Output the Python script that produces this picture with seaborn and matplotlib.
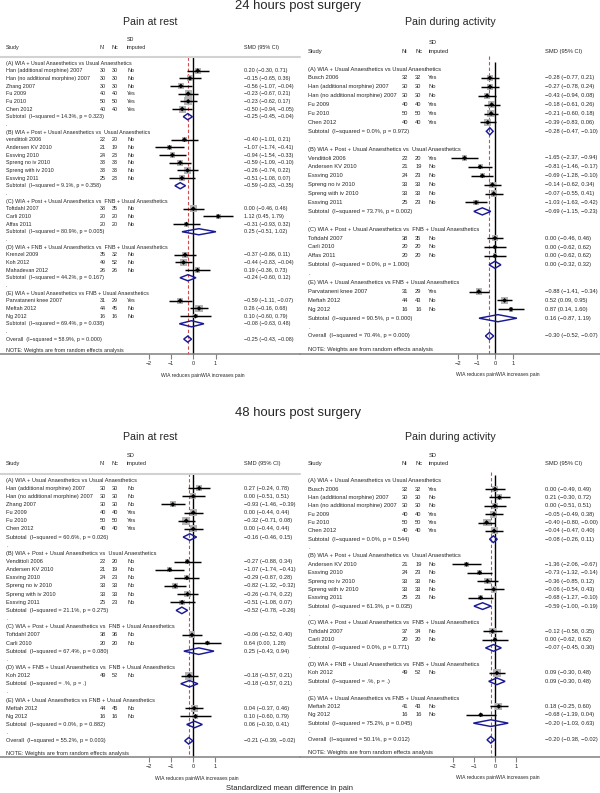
import pandas as pd
import seaborn as sns
import matplotlib.pyplot as plt
from matplotlib import transforms

sns.set_style("white")
plt.rcParams['font.family'] = ['Liberation Sans', 'DejaVu Sans']

group_titles = {
    'A': '(A) WIA + Usual Anaesthetics vs Usual Anaesthetics',
    'B': '(B) WIA + Post + Usual Anaesthetics vs  Usual Anaesthetics',
    'C': '(C) WIA + Post + Usual Anaesthetics vs  FNB + Usual Anaesthetics',
    'D': '(D) WIA + FNB + Usual Anaesthetics vs  FNB + Usual Anaesthetics',
    'E': '(E) WIA + Usual Anaesthetics vs FNB + Usual Anaesthetics',
}

# 24 hours, pain at rest
rest24_group = list('AAAAAABBBBBBCCCDDDEEE')
rest24_study = ['Han (additional morphine) 2007', 'Han (no additional morphine) 2007', 'Zhang 2007',
                'Fu 2009', 'Fu 2010', 'Chen 2012', 'vendittoli 2006', 'Andersen KV 2010', 'Essving 2010',
                'Spreng no iv 2010', 'Spreng with iv 2010', 'Essving 2011', 'Toftdahl 2007', 'Carli 2010',
                'Affas 2011', 'Krenzel 2009', 'Koh 2012', 'Mahadevan 2012', 'Parvataneni knee 2007',
                'Meftah 2012', 'Ng 2012']
rest24_ni = [30, 30, 30, 40, 50, 40, 22, 21, 24, 33, 33, 25, 38, 20, 20, 35, 49, 26, 31, 44, 16]
rest24_nc = [30, 30, 30, 40, 50, 40, 20, 19, 23, 33, 33, 23, 35, 20, 20, 32, 52, 26, 29, 45, 16]
rest24_sd = ['No', 'No', 'No', 'Yes', 'Yes', 'Yes', 'No', 'No', 'No', 'No', 'No', 'No', 'No', 'No',
             'No', 'No', 'No', 'No', 'Yes', 'No', 'No']
rest24_smd = [0.20, -0.15, -0.56, -0.23, -0.23, -0.50, -0.40, -1.07, -0.94, -0.59, -0.26, -0.51,
              0.00, 1.12, -0.31, -0.37, -0.44, 0.19, -0.59, 0.26, 0.10]
rest24_lo = [-0.30, -0.65, -1.07, -0.67, -0.62, -0.94, -1.01, -1.74, -1.54, -1.09, -0.74, -1.08,
             -0.46, 0.45, -0.93, -0.86, -0.83, -0.36, -1.11, -0.16, -0.60]
rest24_hi = [0.71, 0.36, -0.04, 0.21, 0.17, -0.05, 0.21, -0.41, -0.33, -0.10, 0.22, 0.07,
             0.46, 1.79, 0.32, 0.11, -0.04, 0.73, -0.07, 0.68, 0.79]
rest24_sub_group = list('ABCDE')
rest24_sub_i2 = ['14.3', '9.1', '80.9', '44.2', '69.4']
rest24_sub_p = ['0.323', '0.358', '0.005', '0.167', '0.038']
rest24_sub_smd = [-0.25, -0.59, 0.25, -0.24, -0.08]
rest24_sub_lo = [-0.45, -0.83, -0.51, -0.60, -0.63]
rest24_sub_hi = [-0.04, -0.35, 1.02, 0.12, 0.48]
rest24_overall = ['58.9', '0.000', -0.25, -0.43, -0.08]

# 24 hours, pain during activity
act24_group = list('AAAAAABBBBBBCCCEEE')
act24_study = ['Busch 2006', 'Han (additional morphine) 2007', 'Han (no additional morphine) 2007',
               'Fu 2009', 'Fu 2010', 'Chen 2012', 'Vendittoli 2006', 'Andersen KV 2010', 'Essving 2010',
               'Spreng no iv 2010', 'Spreng with iv 2010', 'Essving 2011', 'Toftdahl 2007', 'Carli 2010',
               'Affas 2011', 'Parvataneni knee 2007', 'Meftah 2012', 'Ng 2012']
act24_ni = [32, 30, 30, 40, 50, 40, 22, 21, 24, 33, 33, 25, 38, 20, 20, 31, 44, 16]
act24_nc = [32, 30, 30, 40, 50, 40, 20, 19, 23, 33, 33, 23, 35, 20, 20, 29, 43, 16]
act24_sd = ['Yes', 'No', 'No', 'Yes', 'Yes', 'Yes', 'Yes', 'No', 'No', 'No', 'No', 'No', 'No', 'No',
            'No', 'Yes', 'No', 'No']
act24_smd = [-0.28, -0.27, -0.43, -0.18, -0.21, -0.39, -1.65, -0.81, -0.69, -0.14, -0.07, -1.03,
             0.00, 0.00, 0.00, -0.88, 0.52, 0.87]
act24_lo = [-0.77, -0.78, -0.94, -0.61, -0.60, -0.83, -2.37, -1.46, -1.28, -0.62, -0.55, -1.63,
            -0.46, -0.62, -0.62, -1.41, 0.09, 0.14]
act24_hi = [0.21, 0.24, 0.08, 0.26, 0.18, 0.06, -0.94, -0.17, -0.10, 0.34, 0.41, -0.42,
            0.46, 0.62, 0.62, -0.34, 0.95, 1.60]
act24_sub_group = list('ABCE')
act24_sub_i2 = ['0.0', '73.7', '0.0', '90.5']
act24_sub_p = ['0.972', '0.002', '1.000', '0.000']
act24_sub_smd = [-0.28, -0.69, 0.00, 0.16]
act24_sub_lo = [-0.47, -1.15, -0.32, -0.87]
act24_sub_hi = [-0.10, -0.23, 0.32, 1.19]
act24_overall = ['70.4', '0.000', -0.30, -0.52, -0.07]

# 48 hours, pain at rest
rest48_group = list('AAAAAABBBBBBCCDEE')
rest48_study = ['Han (additional morphine) 2007', 'Han (no additional morphine) 2007', 'Zhang 2007',
                'Fu 2009', 'Fu 2010', 'Chen 2012', 'Vendittoli 2006', 'Andersen KV 2010', 'Essving 2010',
                'Spreng no iv 2010', 'Spreng with iv 2010', 'Essving 2011', 'Toftdahl 2007', 'Carli 2010',
                'Koh 2012', 'Meftah 2012', 'Ng 2012']
rest48_ni = [30, 30, 30, 40, 50, 40, 22, 21, 24, 33, 33, 25, 38, 20, 49, 44, 16]
rest48_nc = [30, 30, 30, 40, 50, 40, 20, 19, 23, 33, 33, 23, 36, 20, 52, 45, 16]
rest48_sd = ['No', 'No', 'No', 'Yes', 'Yes', 'Yes', 'No', 'No', 'No', 'No', 'No', 'No', 'No', 'No',
             'No', 'No', 'No']
rest48_smd = [0.27, 0.00, -0.93, 0.00, -0.32, 0.00, -0.27, -1.07, -0.29, -0.82, -0.26, -0.51,
              -0.06, 0.64, -0.18, 0.04, 0.10]
rest48_lo = [-0.24, -0.51, -1.46, -0.44, -0.71, -0.44, -0.88, -1.74, -0.87, -1.32, -0.74, -1.08,
             -0.52, 0.00, -0.57, -0.37, -0.60]
rest48_hi = [0.78, 0.51, -0.39, 0.44, 0.08, 0.44, 0.34, -0.41, 0.28, -0.32, 0.22, 0.07,
             0.40, 1.28, 0.21, 0.46, 0.79]
rest48_sub_group = list('ABCDE')
rest48_sub_i2 = ['60.6', '21.1', '67.4', '.', '0.0']
rest48_sub_p = ['0.026', '0.275', '0.080', '.', '0.882']
rest48_sub_smd = [-0.16, -0.52, 0.25, -0.18, 0.06]
rest48_sub_lo = [-0.46, -0.78, -0.43, -0.57, -0.30]
rest48_sub_hi = [0.15, -0.26, 0.94, 0.21, 0.41]
rest48_overall = ['55.2', '0.003', -0.21, -0.39, -0.02]

# 48 hours, pain during activity
act48_group = list('AAAAAABBBBBCCDEE')
act48_study = ['Busch 2006', 'Han (additional morphine) 2007', 'Han (no additional morphine) 2007',
               'Fu 2009', 'Fu 2010', 'Chen 2012', 'Andersen KV 2010', 'Essving 2010', 'Spreng no iv 2010',
               'Spreng with iv 2010', 'Essving 2011', 'Toftdahl 2007', 'Carli 2010', 'Koh 2012',
               'Meftah 2012', 'Ng 2012']
act48_ni = [32, 30, 30, 40, 50, 40, 21, 24, 33, 33, 25, 37, 20, 49, 41, 16]
act48_nc = [32, 30, 30, 40, 50, 40, 19, 23, 33, 33, 23, 34, 20, 52, 43, 16]
act48_sd = ['Yes', 'No', 'No', 'Yes', 'Yes', 'Yes', 'No', 'No', 'No', 'No', 'No', 'No', 'No', 'No',
            'No', 'No']
act48_smd = [0.00, 0.21, 0.00, -0.05, -0.40, -0.04, -1.36, -0.73, -0.36, -0.06, -0.68, -0.12,
             0.00, 0.09, 0.18, -0.68]
act48_lo = [-0.49, -0.30, -0.51, -0.49, -0.80, -0.47, -2.06, -1.32, -0.85, -0.54, -1.27, -0.58,
            -0.62, -0.30, -0.25, -1.39]
act48_hi = [0.49, 0.72, 0.51, 0.38, -0.00, 0.40, -0.67, -0.14, 0.12, 0.43, -0.10, 0.35,
            0.62, 0.48, 0.60, 0.04]
act48_sub_group = list('ABCDE')
act48_sub_i2 = ['0.0', '61.3', '0.0', '.', '75.2']
act48_sub_p = ['0.544', '0.035', '0.771', '.', '0.045']
act48_sub_smd = [-0.08, -0.59, -0.07, 0.09, -0.20]
act48_sub_lo = [-0.26, -1.00, -0.45, -0.30, -1.03]
act48_sub_hi = [0.11, -0.19, 0.30, 0.48, 0.63]
act48_overall = ['50.1', '0.012', -0.20, -0.38, -0.02]

xticks = [-2, -1, 0, 1]

W, H = 600, 793
BOX_GREY = '#b4b4b4'
NAVY = '#1a1a94'
fig = plt.figure(figsize=(W / 100, H / 100), dpi=100)


def fmt(v):
    return f"{v:.2f}".replace('-', '\u2212')


def build_rows(groups, study, ni, nc, sd, smd, lo, hi, sub_group, sub_i2, sub_p, sub_smd, sub_lo, sub_hi, overall):
    rows = []
    for k, g in enumerate(sub_group):
        rows.append(dict(kind='head', label=group_titles[g]))
        for i, gg in enumerate(groups):
            if gg == g:
                rows.append(dict(kind='study', label=study[i], ni=str(ni[i]), nc=str(nc[i]), sd=sd[i],
                                 smd=smd[i], lo=lo[i], hi=hi[i], n=ni[i] + nc[i]))
        rows.append(dict(kind='sub', label=f"Subtotal  (I\u2212squared = {sub_i2[k]}%, p = {sub_p[k]})",
                         smd=sub_smd[k], lo=sub_lo[k], hi=sub_hi[k]))
        rows.append(dict(kind='dot', label='.'))
    rows.append(dict(kind='overall', label=f"Overall  (I\u2212squared = {overall[0]}%, p = {overall[1]})",
                     smd=overall[2], lo=overall[3], hi=overall[4]))
    df = pd.DataFrame(rows)
    df['row'] = range(len(df))
    return df


def draw_panel(df, box, zero_px, px_per_unit, first_px, row_px, cols, junction_px, grey_rule,
               dash_top, null_top, txt):
    left, top, width, height = box
    ax = fig.add_axes([left / W, 1 - (top + height) / H, width / W, height / H])
    trans = transforms.blended_transform_factory(ax.transAxes, ax.transData)
    last = df['row'].max()
    axis_y = last + 2.0
    overall_smd = df.loc[df['kind'] == 'overall', 'smd'].iloc[0]

    # header
    ax.text(cols['study'] / width, -2, 'Study', transform=trans, fontsize=txt, va='center')
    ax.text(cols['ni'] / width, -2, 'Ni', transform=trans, fontsize=txt, va='center')
    ax.text(cols['nc'] / width, -2, 'Nc', transform=trans, fontsize=txt, va='center')
    ax.text(cols['sd'] / width, -3, 'SD', transform=trans, fontsize=txt, va='center')
    ax.text(cols['sd'] / width, -2, 'imputed', transform=trans, fontsize=txt, va='center')
    ax.text(cols['smd'] / width, -2, 'SMD (95% CI)', transform=trans, fontsize=txt, va='center')
    if grey_rule:
        ax.plot([0, 1], [-0.75, -0.75], transform=trans, color='#d2d2d2', lw=1.5, clip_on=False)

    # text columns
    for _, r in df.iterrows():
        ax.text(cols['study'] / width, r['row'], r['label'], transform=trans, fontsize=txt, va='center')
        if r['kind'] == 'study':
            ax.text(cols['ni'] / width, r['row'], r['ni'], transform=trans, fontsize=txt, va='center')
            ax.text(cols['nc'] / width, r['row'], r['nc'], transform=trans, fontsize=txt, va='center')
            ax.text(cols['sd'] / width, r['row'], r['sd'], transform=trans, fontsize=txt, va='center')
        if r['kind'] in ('study', 'sub', 'overall'):
            ax.text(cols['smd'] / width, r['row'], f"{fmt(r['smd'])} ({fmt(r['lo'])}, {fmt(r['hi'])})",
                    transform=trans, fontsize=txt, va='center')
    ax.text(cols['study'] / width, last + 1.5, 'NOTE: Weights are from random effects analysis',
            transform=trans, fontsize=txt, va='center')

    # reference lines
    ax.vlines(0, null_top, axis_y, color='black', lw=1.0, zorder=1)
    ax.vlines(overall_smd, dash_top, axis_y, colors='#d24a4a', linestyles=(0, (3, 2)), lw=0.8, zorder=1)

    # studies: weight boxes, CI lines, point estimates
    studies = df[df['kind'] == 'study'].copy()
    box_side = 0.78 * studies['n'] ** 0.5 * 0.72
    sns.scatterplot(data=studies, x='smd', y='row', s=box_side ** 2, marker='s', color=BOX_GREY,
                    edgecolor='none', linewidth=0, legend=False, ax=ax, zorder=2)
    ax.hlines(studies['row'], studies['lo'], studies['hi'], color='black', lw=1.05, zorder=3)
    sns.scatterplot(data=studies, x='smd', y='row', s=6, marker='D', color='black',
                    edgecolor='none', linewidth=0, legend=False, ax=ax, zorder=4)

    # pooled diamonds
    hh = 0.4
    for _, r in df[df['kind'].isin(['sub', 'overall'])].iterrows():
        ax.fill([r['lo'], r['smd'], r['hi'], r['smd']], [r['row'], r['row'] - hh, r['row'], r['row'] + hh],
                facecolor='none', edgecolor=NAVY, lw=1.05, zorder=5)

    # x axis
    ax.plot([0, 1], [axis_y, axis_y], transform=trans, color='#808080', lw=1.1, clip_on=False)
    ax.vlines(xticks, axis_y, axis_y + 5 / row_px, color='#808080', lw=0.8)
    for t in xticks:
        ax.text(t, axis_y + 9.5 / row_px, fmt(t).replace('.00', ''), ha='center', va='center', fontsize=txt)
    ax.text(junction_px / width, axis_y + 21 / row_px, 'WIA reduces pain', transform=trans,
            ha='right', va='center', fontsize=3.6)
    ax.text(junction_px / width, axis_y + 21 / row_px, 'WIA increases pain', transform=trans,
            ha='left', va='center', fontsize=3.6)

    ax.set_xlim(-zero_px / px_per_unit, (width - zero_px) / px_per_unit)
    ax.set_ylim((top + height - first_px) / row_px, (top - first_px) / row_px)
    ax.axis('off')
    return ax


left_cols = dict(study=6, ni=100, nc=112, sd=127, smd=244)
right_cols = dict(study=8, ni=101.7, nc=115, sd=128.3, smd=245)

df_rest24 = build_rows(rest24_group, rest24_study, rest24_ni, rest24_nc, rest24_sd, rest24_smd, rest24_lo,
                       rest24_hi, rest24_sub_group, rest24_sub_i2, rest24_sub_p, rest24_sub_smd,
                       rest24_sub_lo, rest24_sub_hi, rest24_overall)
df_act24 = build_rows(act24_group, act24_study, act24_ni, act24_nc, act24_sd, act24_smd, act24_lo,
                      act24_hi, act24_sub_group, act24_sub_i2, act24_sub_p, act24_sub_smd,
                      act24_sub_lo, act24_sub_hi, act24_overall)
df_rest48 = build_rows(rest48_group, rest48_study, rest48_ni, rest48_nc, rest48_sd, rest48_smd, rest48_lo,
                       rest48_hi, rest48_sub_group, rest48_sub_i2, rest48_sub_p, rest48_sub_smd,
                       rest48_sub_lo, rest48_sub_hi, rest48_overall)
df_act48 = build_rows(act48_group, act48_study, act48_ni, act48_nc, act48_sd, act48_smd, act48_lo,
                      act48_hi, act48_sub_group, act48_sub_i2, act48_sub_p, act48_sub_smd,
                      act48_sub_lo, act48_sub_hi, act48_overall)

draw_panel(df_rest24, (0, 30, 300, 355), 193.3, 22.2, 63, 7.67, left_cols, 201, True, -0.75, -0.75, 3.85)
draw_panel(df_act24, (300, 30, 300, 355), 195, 18.4, 69, 8.9, right_cols, 196, False, -1.5, -0.8, 4.15)
draw_panel(df_rest48, (0, 445, 300, 340), 193.3, 22.0, 480, 8.15, left_cols, 195, True, -0.8, -0.8, 4.1)
draw_panel(df_act48, (300, 445, 300, 340), 195, 21.0, 480.7, 8.36, right_cols, 196.5, False, -1.1, -0.7, 4.15)


def fig_text(x, y, s, size):
    fig.text(x / W, 1 - y / H, s, fontsize=size, ha='center', va='center')


fig_text(298, 6.5, '24 hours post surgery', 9.4)
fig_text(150, 22, 'Pain at rest', 7.7)
fig_text(450, 22, 'Pain during activity', 7.7)
fig_text(298, 413, '48 hours post surgery', 9.4)
fig_text(150, 436.5, 'Pain at rest', 7.7)
fig_text(450, 436.5, 'Pain during activity', 7.7)
fig_text(289, 788, 'Standardized mean difference in pain', 5.5)

fig.savefig('out.png', dpi=100, facecolor='white')
